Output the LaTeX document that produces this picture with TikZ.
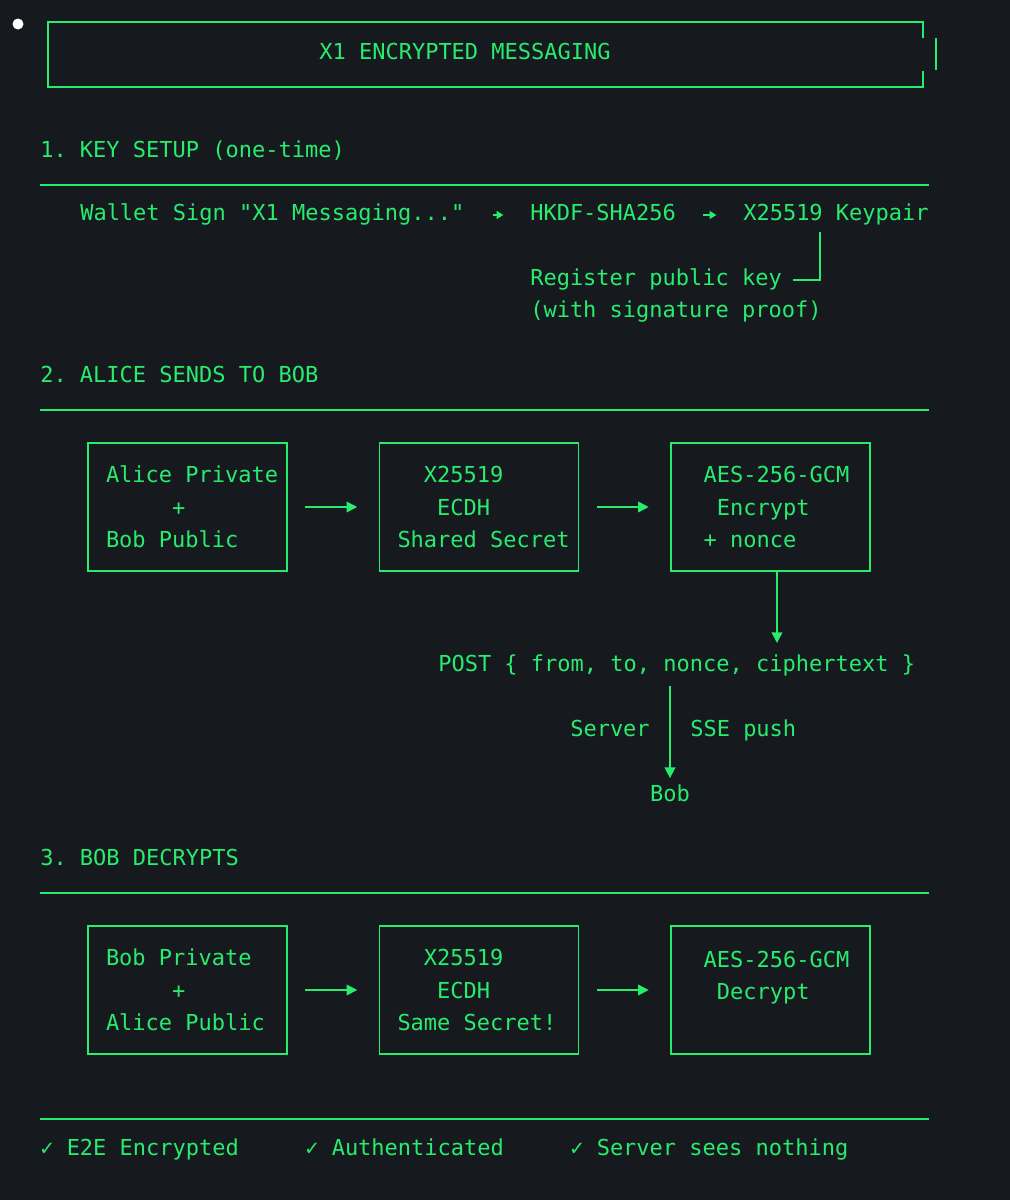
\documentclass[tikz,border=0pt]{standalone}
\usepackage{fontspec}
\setmonofont{DejaVu Sans Mono}
\usetikzlibrary{arrows.meta,positioning}
\definecolor{termgreen}{RGB}{40,236,110}
\definecolor{termbg}{RGB}{22,26,31}
\newcommand{\pad}[1]{\hspace*{#1\dimexpr 9.93pt\relax}}
\tikzset{
  txt/.style={text=termgreen, font=\ttfamily\fontsize{16.5}{24.4}\selectfont, inner sep=0pt, text height=11.5pt, text depth=3pt},
  box/.style={draw=termgreen, line width=1.4pt, minimum width=149.25pt, minimum height=96pt, inner sep=0pt},
  flow/.style={draw=termgreen, line width=1.2pt, -{Triangle[length=8pt,width=8pt]}},
  rule/.style={draw=termgreen, line width=1.2pt}
}
\begin{document}
\begin{tikzpicture}[x=0.75pt,y=-0.75pt]
\useasboundingbox[fill=termbg] (0,0) rectangle (1010,1200);
\fill[white] (18,24) circle (5.5);

% Titel
\draw[rule, line width=1.4pt] (923,38) -- (923,22) -- (48,22) -- (48,87) -- (923,87) -- (923,71);
\draw[rule, line width=1.4pt] (936,38) -- (936,70);
\node[txt] (title) at (465,54) {X1 ENCRYPTED MESSAGING};

% 1. Schluessel
\node[txt, anchor=west] (h1) at (40,152) {1. KEY SETUP (one-time)};
\draw[rule] (40,185) -- (929,185);
\node[txt, anchor=west] (wallet) at (80,215) {Wallet Sign "X1 Messaging..."};
\node[txt, anchor=west] (hkdf) at (530,215) {HKDF-SHA256};
\node[txt, anchor=west] (keypair) at (743,215) {X25519 Keypair};
\node[txt, anchor=west] (reg) at (530,280) {Register public key};
\node[txt, anchor=west] (proof) at (530,312) {(with signature proof)};
\draw[flow, -{Triangle[length=5pt,width=6pt]}, line width=0.9pt, shorten <=21pt, shorten >=20pt] (wallet.east) -- (hkdf.west);
\draw[flow, -{Triangle[length=5pt,width=6pt]}, line width=0.9pt, shorten <=20pt, shorten >=20pt] (hkdf.east) -- (keypair.west);
\coordinate (regcorner) at (820,280);
\draw[rule] (820,232) -- (regcorner) -- ([xshift=8pt]reg.east);

% 2. Alice an Bob
\node[txt, anchor=west] (h2) at (40,377) {2. ALICE SENDS TO BOB};
\draw[rule] (40,410) -- (929,410);
\node[box] (apriv) at (187.5,507) {};
\node[box] (ecdh1) at (479,507) {};
\node[box] (aes1) at (770.5,507) {};
\node[txt, anchor=west, align=left, text height=, text depth=] at ([xshift=14pt]apriv.west) {Alice Private\\\pad{5}+\\Bob Public};
\node[txt, anchor=west, align=left, text height=, text depth=] at ([xshift=14pt]ecdh1.west) {\pad{2}X25519\\\pad{3}ECDH\\Shared Secret};
\node[txt, anchor=west, align=left, text height=, text depth=] at ([xshift=25pt]aes1.west) {AES-256-GCM\\\pad{1}Encrypt\\+ nonce};
\draw[flow, shorten <=13pt, shorten >=16pt] (apriv) -- (ecdh1);
\draw[flow, shorten <=13pt, shorten >=16pt] (ecdh1) -- (aes1);

\node[txt, anchor=west] (post) at (438,666) {POST \{ from, to, nonce, ciphertext \}};
\coordinate (postin) at (777,643);
\draw[flow] (777,571) -- (postin);
\node[txt] (bob) at (670,796) {Bob};
\draw[flow, shorten <=4pt, shorten >=6pt] (670,681) -- (bob.north);
\node[txt, anchor=east] (server) at (650,731) {Server};
\node[txt, anchor=west] (sse) at (690,731) {SSE push};

% 3. Bob entschluesselt
\node[txt, anchor=west] (h3) at (40,860) {3. BOB DECRYPTS};
\draw[rule] (40,893) -- (929,893);
\node[box] (bpriv) at (187.5,990) {};
\node[box] (ecdh2) at (479,990) {};
\node[box] (aes2) at (770.5,990) {};
\node[txt, anchor=west, align=left, text height=, text depth=] at ([xshift=14pt]bpriv.west) {Bob Private\\\pad{5}+\\Alice Public};
\node[txt, anchor=west, align=left, text height=, text depth=] at ([xshift=14pt]ecdh2.west) {\pad{2}X25519\\\pad{3}ECDH\\Same Secret!};
\node[txt, anchor=north west, align=left, text height=, text depth=] at ([xshift=25pt,yshift=-19pt]aes2.north west) {AES-256-GCM\\\pad{1}Decrypt};
\draw[flow, shorten <=13pt, shorten >=16pt] (bpriv) -- (ecdh2);
\draw[flow, shorten <=13pt, shorten >=16pt] (ecdh2) -- (aes2);

% Fusszeile
\draw[rule] (40,1119) -- (929,1119);
\node[txt, anchor=west] (e2e) at (40,1150) {✓ E2E Encrypted};
\node[txt, anchor=west] (auth) at (305,1150) {✓ Authenticated};
\node[txt, anchor=west] (nothing) at (570,1150) {✓ Server sees nothing};
\end{tikzpicture}
\end{document}
